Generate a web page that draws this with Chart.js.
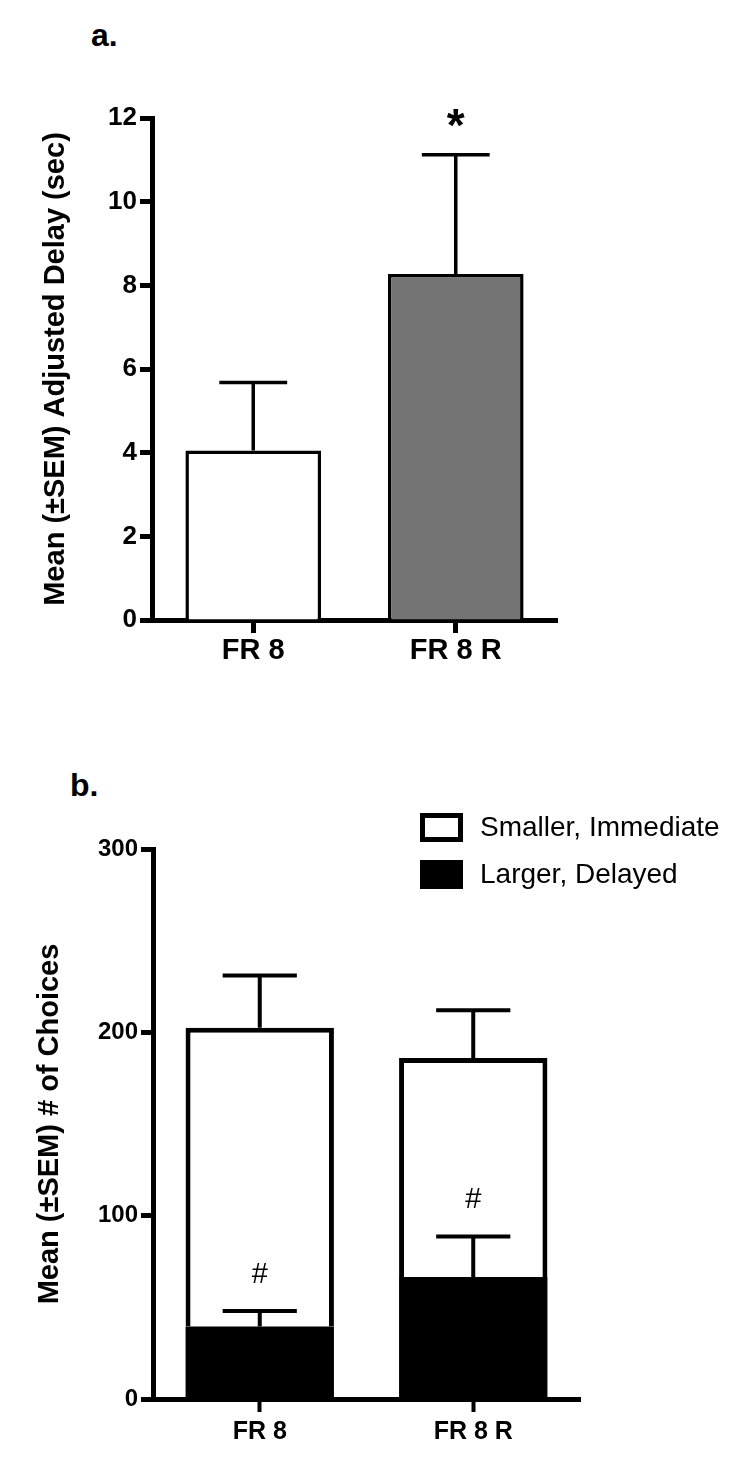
<!DOCTYPE html>
<html>
<head>
<meta charset="utf-8">
<script src="https://cdn.jsdelivr.net/npm/chart.js@4.4.1/dist/chart.umd.min.js"></script>
<style>
  html, body { margin: 0; padding: 0; background: #fff; }
  body { width: 750px; height: 1467px; position: relative; overflow: hidden; font-family: "Liberation Sans", Arial, sans-serif; }
  .panel-label { position: absolute; font-weight: bold; font-size: 32px; line-height: 1; color: #000; }
  #chartA { position: absolute; left: 0; top: 0; }
  #chartB { position: absolute; left: 0; top: 730px; }
</style>
</head>
<body>
<div class="panel-label" style="left:91px; top:19px">a.</div>
<div class="panel-label" style="left:70px; top:769px">b.</div>
<canvas id="chartA" width="750" height="730"></canvas>
<canvas id="chartB" width="750" height="737"></canvas>
<script>
const FONT = '"Liberation Sans", Arial, Helvetica, sans-serif'

// ── Datos ─────────────────────────────────────────────────────────
const groups = ['FR 8', 'FR 8 R']

// panel a: adjusted delay (sec)
const delayMeans = [4.05, 8.27]
const delaySem   = [1.63, 2.85]
const delayMarks = ['', '*']
const delayTicks = { min: 0, max: 12, step: 2 }

// panel b: number of choices (stacked)
const largerMeans  = [39.5, 66.5]
const largerSem    = [8.5, 22.2]
const largerMarks  = ['#', '#']
const smallerMeans = [163, 119.5]
const smallerSem   = [28.5, 26]
const choiceTicks  = { min: 0, max: 300, step: 100 }

// ── Plugins ───────────────────────────────────────────────────────
// barras de error (solo hacia arriba) + marcas de significancia
const errorBars = {
    id: 'errorBars',
    afterDatasetsDraw(chart, args, opts) {
        const ctx = chart.ctx
        const yScale = chart.scales.y
        chart.data.datasets.forEach((ds, di) => {
            if (!ds.errors) return
            const meta = chart.getDatasetMeta(di)
            meta.data.forEach((bar, i) => {
                const topVal = yScale.getValueForPixel(bar.y)
                const yErr = yScale.getPixelForValue(topVal + ds.errors[i])
                const half = bar.width / 4
                ctx.save()
                ctx.strokeStyle = '#000'
                ctx.lineWidth = opts.lineWidth
                ctx.beginPath()
                ctx.moveTo(bar.x, bar.y)
                ctx.lineTo(bar.x, yErr)
                ctx.moveTo(bar.x - half, yErr)
                ctx.lineTo(bar.x + half, yErr)
                ctx.stroke()
                const mark = ds.marks && ds.marks[i]
                if (mark) {
                    ctx.fillStyle = '#000'
                    ctx.font = opts.markFont
                    ctx.textAlign = 'center'
                    ctx.textBaseline = 'alphabetic'
                    ctx.fillText(mark, bar.x, yErr - opts.markGap)
                }
                ctx.restore()
            })
        })
    }
}

// leyenda con cajas grandes, dentro del área (arriba a la derecha)
const boxLegend = {
    id: 'boxLegend',
    afterDraw(chart, args, opts) {
        if (!opts.display) return
        const ctx = chart.ctx
        const items = chart.data.datasets.slice().reverse()
        items.forEach((ds, i) => {
            const x = opts.x
            const y = opts.y + i * opts.rowGap
            ctx.save()
            ctx.fillStyle = ds.backgroundColor
            ctx.fillRect(x, y, opts.boxW, opts.boxH)
            if (ds.borderWidth) {
                const lw = opts.lineWidth
                ctx.lineWidth = lw
                ctx.strokeStyle = ds.borderColor
                ctx.strokeRect(x + lw / 2, y + lw / 2, opts.boxW - lw, opts.boxH - lw)
            }
            ctx.fillStyle = '#000'
            ctx.font = opts.font
            ctx.textAlign = 'left'
            ctx.textBaseline = 'middle'
            ctx.fillText(ds.label, x + opts.textOffset, y + opts.boxH / 2 + 1)
            ctx.restore()
        })
    }
}

function ejeX(fontSize, pad, height, lw, tickW) {
    return {
        z: 1,
        grid: { offset: false, drawOnChartArea: false, tickLength: 13, tickWidth: tickW, tickColor: '#000' },
        border: { color: '#000', width: lw },
        ticks: { color: '#000', font: { family: FONT, size: fontSize, weight: 'bold' }, padding: pad },
        afterFit: s => { s.height = height }
    }
}

function ejeY(t, fontSize, titulo, titlePad, width, lw, tickW) {
    return {
        z: 1,
        min: t.min, max: t.max,
        ticks: { stepSize: t.step, color: '#000', font: { family: FONT, size: fontSize, weight: 'bold' }, padding: 3 },
        grid: { drawOnChartArea: false, tickLength: 12, tickWidth: tickW, tickColor: '#000' },
        border: { color: '#000', width: lw },
        title: { display: true, text: titulo, color: '#000', font: { family: FONT, size: 29, weight: 'bold' }, padding: { top: titlePad, bottom: 0 } },
        afterFit: s => { s.width = width }
    }
}

// ── Panel a ───────────────────────────────────────────────────────
new Chart(document.getElementById('chartA'), {
    type: 'bar',
    data: {
        labels: groups,
        datasets: [{
            data: delayMeans,
            errors: delaySem,
            marks: delayMarks,
            backgroundColor: ['#ffffff', '#747474'],
            borderColor: '#000',
            borderWidth: 3.5,
            barPercentage: 0.67,
            categoryPercentage: 1
        }]
    },
    options: {
        responsive: false, animation: false,
        layout: { padding: { left: 0, top: 118, right: 193, bottom: 50 } },
        plugins: {
            legend: { display: false }, tooltip: { enabled: false },
            errorBars: { lineWidth: 3.5, markFont: `bold 46px ${FONT}`, markGap: 14 },
            boxLegend: { display: false }
        },
        scales: {
            x: ejeX(29, 1, 60, 5, 5),
            y: ejeY(delayTicks, 26, 'Mean (±SEM) Adjusted Delay (sec)', 39, 152, 5, 5)
        }
    },
    plugins: [errorBars, boxLegend]
})

// ── Panel b ───────────────────────────────────────────────────────
new Chart(document.getElementById('chartB'), {
    type: 'bar',
    data: {
        labels: groups,
        datasets: [
            { label: 'Larger, Delayed', data: largerMeans, errors: largerSem, marks: largerMarks,
              backgroundColor: '#000000', borderColor: '#000', borderWidth: 0, barPercentage: 0.695, categoryPercentage: 1 },
            { label: 'Smaller, Immediate', data: smallerMeans, errors: smallerSem,
              backgroundColor: '#ffffff', borderColor: '#000', borderWidth: 5, barPercentage: 0.695, categoryPercentage: 1 }
        ]
    },
    options: {
        responsive: false, animation: false,
        layout: { padding: { left: 0, top: 119, right: 170, bottom: 13 } },
        plugins: {
            legend: { display: false }, tooltip: { enabled: false },
            errorBars: { lineWidth: 4, markFont: `29px ${FONT}`, markGap: 28 },
            boxLegend: { display: true, x: 420, y: 83, boxW: 43, boxH: 29, rowGap: 47, lineWidth: 5, textOffset: 60, font: `28px ${FONT}` }
        },
        scales: {
            x: Object.assign(ejeX(25, 5, 55, 5, 4), { stacked: true }),
            y: Object.assign(ejeY(choiceTicks, 24, 'Mean (±SEM) # of Choices', 33, 153, 5, 5), { stacked: true })
        }
    },
    plugins: [errorBars, boxLegend]
})
</script>
</body>
</html>
